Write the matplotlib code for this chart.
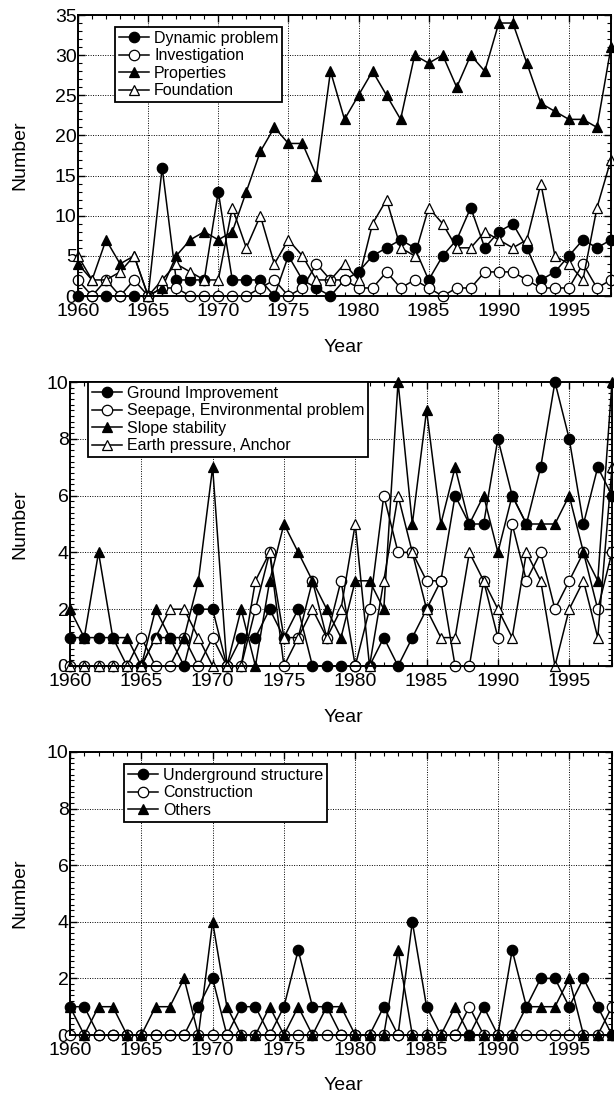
import numpy as np
import matplotlib
matplotlib.use("Agg")
import matplotlib.pyplot as plt
from matplotlib.ticker import MultipleLocator

plt.rcParams["font.family"] = ["Liberation Sans", "DejaVu Sans"]

years = list(range(1960, 1999))

# Panel 1
dynamic_problem = [0, 0, 0, 0, 0, 0, 16, 2, 2, 2, 13, 2, 2, 2, 0, 5, 2, 1, 0, 2,
                   3, 5, 6, 7, 6, 2, 5, 7, 11, 6, 8, 9, 6, 2, 3, 5, 7, 6, 7]
investigation = [2, 0, 2, 0, 2, 0, 1, 1, 0, 0, 0, 0, 0, 1, 2, 0, 1, 4, 2, 2,
                 1, 1, 3, 1, 2, 1, 0, 1, 1, 3, 3, 3, 2, 1, 1, 1, 4, 1, 2]
properties = [4, 2, 7, 4, 5, 0, 1, 5, 7, 8, 7, 8, 13, 18, 21, 19, 19, 15, 28, 22,
              25, 28, 25, 22, 30, 29, 30, 26, 30, 28, 34, 34, 29, 24, 23, 22, 22, 21, 31]
foundation = [5, 2, 2, 3, 5, 0, 2, 4, 3, 2, 2, 11, 6, 10, 4, 7, 5, 2, 2, 4,
              2, 9, 12, 6, 5, 11, 9, 6, 6, 8, 7, 6, 7, 14, 5, 4, 2, 11, 17]

# Panel 2
ground_improvement = [1, 1, 1, 1, 0, 0, 1, 1, 0, 2, 2, 0, 1, 1, 2, 1, 2, 0, 0, 0,
                      0, 0, 1, 0, 1, 2, 3, 6, 5, 5, 8, 6, 5, 7, 10, 8, 5, 7, 6]
seepage = [0, 0, 0, 0, 0, 1, 0, 0, 1, 0, 1, 0, 0, 2, 4, 0, 1, 3, 1, 3,
           0, 2, 6, 4, 4, 3, 3, 0, 0, 3, 1, 5, 3, 4, 2, 3, 4, 2, 4]
slope_stability = [2, 1, 4, 1, 1, 0, 2, 1, 1, 3, 7, 0, 2, 0, 3, 5, 4, 3, 2, 1,
                   3, 3, 2, 10, 5, 9, 5, 7, 5, 6, 4, 6, 5, 5, 5, 6, 4, 3, 10]
earth_pressure = [0, 0, 0, 0, 0, 0, 1, 2, 2, 1, 0, 0, 0, 3, 4, 1, 1, 2, 1, 2,
                  5, 0, 3, 6, 4, 2, 1, 1, 4, 3, 2, 1, 4, 3, 0, 2, 3, 1, 7]

# Panel 3
underground = [1, 1, 0, 0, 0, 0, 0, 0, 0, 1, 2, 0, 1, 1, 0, 1, 3, 1, 1, 0,
               0, 0, 1, 0, 4, 1, 0, 0, 0, 1, 0, 3, 1, 2, 2, 1, 2, 1, 0]
construction = [0, 0, 0, 0, 0, 0, 0, 0, 0, 0, 0, 0, 0, 0, 0, 0, 0, 0, 0, 0,
                0, 0, 0, 0, 0, 0, 0, 0, 1, 0, 0, 0, 0, 0, 0, 0, 0, 0, 1]
others = [1, 0, 1, 1, 0, 0, 1, 1, 2, 0, 4, 1, 0, 0, 1, 0, 1, 0, 1, 1,
          0, 0, 0, 3, 0, 0, 0, 1, 0, 0, 0, 0, 1, 1, 1, 2, 0, 0, 0]

W, H = 614, 1099
fig = plt.figure(figsize=(W / 100, H / 100), dpi=100)


def box(left, top, right, bottom):
    return [left / W, 1 - bottom / H, (right - left) / W, (bottom - top) / H]


styles = {
    "filled_o": dict(marker="o", mfc="black", mec="black"),
    "open_o": dict(marker="o", mfc="white", mec="black"),
    "filled_t": dict(marker="^", mfc="black", mec="black"),
    "open_t": dict(marker="^", mfc="white", mec="black"),
}


def draw_panel(ax, series, ymax, ymajor, yminor, legend_loc):
    for label, vals, st in series:
        ax.plot(years, vals, color="black", lw=1.1, ms=7.5, mew=0.9,
                label=label, clip_on=False, **styles[st])
    ax.set_xlim(1960, 1998)
    ax.set_ylim(0, ymax)
    ax.xaxis.set_major_locator(MultipleLocator(5))
    ax.xaxis.set_minor_locator(MultipleLocator(1))
    ax.yaxis.set_major_locator(MultipleLocator(ymajor))
    ax.yaxis.set_minor_locator(MultipleLocator(yminor))
    ax.tick_params(which="both", direction="in", top=True, right=True,
                   labelsize=14)
    ax.tick_params(axis="y", pad=1)
    ax.tick_params(axis="x", pad=5)
    ax.tick_params(which="major", length=5, width=1)
    ax.tick_params(which="minor", length=3, width=0.8)
    ax.grid(True, which="major", color="black", ls=(0, (1, 1.5)), lw=0.7)
    for s in ax.spines.values():
        s.set_linewidth(1.4)
    leg = ax.legend(loc="upper left", bbox_to_anchor=legend_loc,
                    fontsize=11.5, frameon=True, fancybox=False,
                    handlelength=1.9, handletextpad=0.3, borderpad=0.25,
                    labelspacing=0.15, borderaxespad=0)
    leg.get_frame().set_edgecolor("black")
    leg.get_frame().set_linewidth(1.3)
    leg.get_frame().set_alpha(1)


ax1 = fig.add_axes(box(78, 15, 611, 296))
draw_panel(ax1, [("Dynamic problem", dynamic_problem, "filled_o"),
                 ("Investigation", investigation, "open_o"),
                 ("Properties", properties, "filled_t"),
                 ("Foundation", foundation, "open_t")],
           35, 5, 1, (37 / 533, 1 - 12 / 281))

ax2 = fig.add_axes(box(70, 382, 612, 666))
draw_panel(ax2, [("Ground Improvement", ground_improvement, "filled_o"),
                 ("Seepage, Environmental problem", seepage, "open_o"),
                 ("Slope stability", slope_stability, "filled_t"),
                 ("Earth pressure, Anchor", earth_pressure, "open_t")],
           10, 2, 0.2, (18 / 542, 1.0))

ax3 = fig.add_axes(box(70, 752, 612, 1035))
draw_panel(ax3, [("Underground structure", underground, "filled_o"),
                 ("Construction", construction, "open_o"),
                 ("Others", others, "filled_t")],
           10, 2, 0.2, (54 / 542, 1 - 12 / 283))

for ax, top, bottom, ytxt in [(ax1, 15, 296, 348), (ax2, 382, 666, 718),
                              (ax3, 752, 1035, 1085)]:
    fig.text(20 / W, 1 - (top + bottom) / 2 / H, "Number", rotation=90,
             ha="center", va="center", fontsize=14)
    fig.text(343 / W, 1 - ytxt / H, "Year", ha="center", va="center",
             fontsize=14)

fig.savefig("out.png", dpi=100)
